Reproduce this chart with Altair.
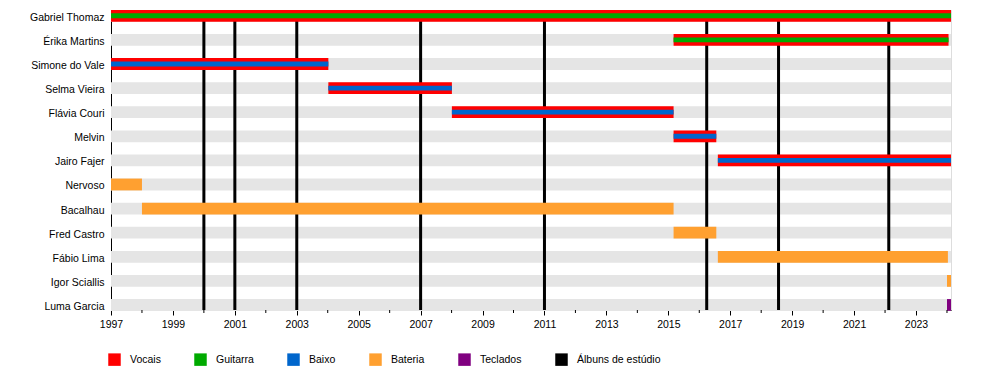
import json
import altair as alt
import pandas as pd

# ---------------- data ----------------
members = ["Gabriel Thomaz", "Érika Martins", "Simone do Vale", "Selma Vieira",
           "Flávia Couri", "Melvin", "Jairo Fajer", "Nervoso", "Bacalhau",
           "Fred Castro", "Fábio Lima", "Igor Sciallis", "Luma Garcia"]
END = 2024.13
starts = [1997.0, 2015.17, 1997.0, 2004.02, 2008.01, 2015.17, 2016.6,
          1997.0, 1998.0, 2015.17, 2016.6, 2024.0, 2024.0]
ends = [END, 2024.05, 2004.02, 2008.01, 2015.17, 2016.55, END,
        1998.0, 2015.17, 2016.55, 2024.03, END, END]
outer_roles = ["Vocais", "Vocais", "Vocais", "Vocais", "Vocais", "Vocais", "Vocais",
               "Bateria", "Bateria", "Bateria", "Bateria", "Bateria", "Teclados"]
inner_roles = ["Guitarra", "Guitarra", "Baixo", "Baixo", "Baixo", "Baixo", "Baixo",
               None, None, None, None, None, None]
album_years = [2000.0, 2001.0, 2003.0, 2007.0, 2011.0, 2016.24, 2018.56, 2022.12]
label_years = list(range(1997, 2024, 2))
minor_years = list(range(1998, 2025, 2))
roles = ["Vocais", "Guitarra", "Baixo", "Bateria", "Teclados", "Álbuns de estúdio"]

# ---------------- style ----------------
role_colors = ["#FF0000", "#00AA00", "#0066CC", "#FFA030", "#800080", "#000000"]
color_of = dict(zip(roles, role_colors))
FONT = "Liberation Sans"
FS = 10.5
W, H = 840, 300
HALF = 0.245
INNER = 0.1

df = pd.DataFrame({
    "member": members,
    "row": list(range(len(members))),
    "start": starts,
    "end": ends,
    "outer": outer_roles,
    "inner": inner_roles,
})
df["inner_color"] = df["inner"].map(lambda r: color_of.get(r) if r else None)
df["full_start"] = 1997.0
df["full_end"] = END

df_inner = df[df["inner"].notna()].copy()
df_album = pd.DataFrame({"year": album_years})
df_minor = pd.DataFrame({"year": minor_years})

xscale = alt.Scale(domain=[1997.0, END], zero=False, nice=False)
yscale = alt.Scale(domain=[-0.24, -0.24 + H / 24.1], zero=False, nice=False, reverse=True)

label_expr = json.dumps(members) + "[datum.value]"

xaxis = alt.Axis(values=label_years, format="d", tickSize=5, labelPadding=4,
                 labelFlush=False, labelOverlap=False,
                 domainColor="black", tickColor="black", labelColor="black",
                 labelFont=FONT, labelFontSize=FS, grid=False, title=None)
yaxis = alt.Axis(values=list(range(len(members))), labelExpr=label_expr,
                 ticks=False, tickSize=0, labelPadding=7, labelOffset=1.5,
                 labelFlush=False, labelOverlap=False, domainColor="black",
                 labelColor="black", labelFont=FONT, labelFontSize=FS,
                 grid=False, title=None)

bands = alt.Chart(df).mark_rect(color="#E5E5E5").transform_calculate(
    y0=f"datum.row - {HALF}", y1=f"datum.row + {HALF}"
).encode(
    x=alt.X("full_start:Q", scale=xscale, axis=xaxis),
    x2="full_end:Q",
    y=alt.Y("y0:Q", scale=yscale, axis=yaxis),
    y2="y1:Q",
)

albums = alt.Chart(df_album).mark_rule(color="black", strokeWidth=3).encode(
    x=alt.X("year:Q", scale=xscale, axis=xaxis),
    y=alt.value(0),
    y2=alt.value(H),
)

outer = alt.Chart(df).mark_rect().transform_calculate(
    y0=f"datum.row - {HALF}", y1=f"datum.row + {HALF}"
).encode(
    x=alt.X("start:Q", scale=xscale, axis=xaxis),
    x2="end:Q",
    y=alt.Y("y0:Q", scale=yscale, axis=yaxis),
    y2="y1:Q",
    color=alt.Color("outer:N", scale=alt.Scale(domain=roles, range=role_colors),
                    legend=alt.Legend(title=None, orient="none", legendX=-3, legendY=343,
                                      direction="horizontal", symbolType="square",
                                      symbolSize=156, symbolStrokeWidth=0,
                                      labelFont=FONT, labelFontSize=FS,
                                      labelColor="black", labelOffset=9,
                                      columnPadding=33, padding=0)),
)

inner = alt.Chart(df_inner).mark_rect().transform_calculate(
    y0=f"datum.row - {INNER}", y1=f"datum.row + {INNER}"
).encode(
    x=alt.X("start:Q", scale=xscale, axis=xaxis),
    x2="end:Q",
    y=alt.Y("y0:Q", scale=yscale, axis=yaxis),
    y2="y1:Q",
    color=alt.Color("inner_color:N", scale=None),
)

minor = alt.Chart(df_minor).mark_rule(color="black", strokeWidth=1).encode(
    x=alt.X("year:Q", scale=xscale, axis=xaxis),
    y=alt.value(H),
    y2=alt.value(H + 3),
)

chart = alt.layer(bands, albums, outer, inner, minor).properties(
    width=W, height=H,
    autosize=alt.AutoSizeParams(type="none"),
    padding={"left": 103, "top": 2, "right": 41, "bottom": 70},
).configure_view(stroke=None).configure(background="white")

chart.save("out.html", embed_options={"renderer": "svg", "actions": False})
